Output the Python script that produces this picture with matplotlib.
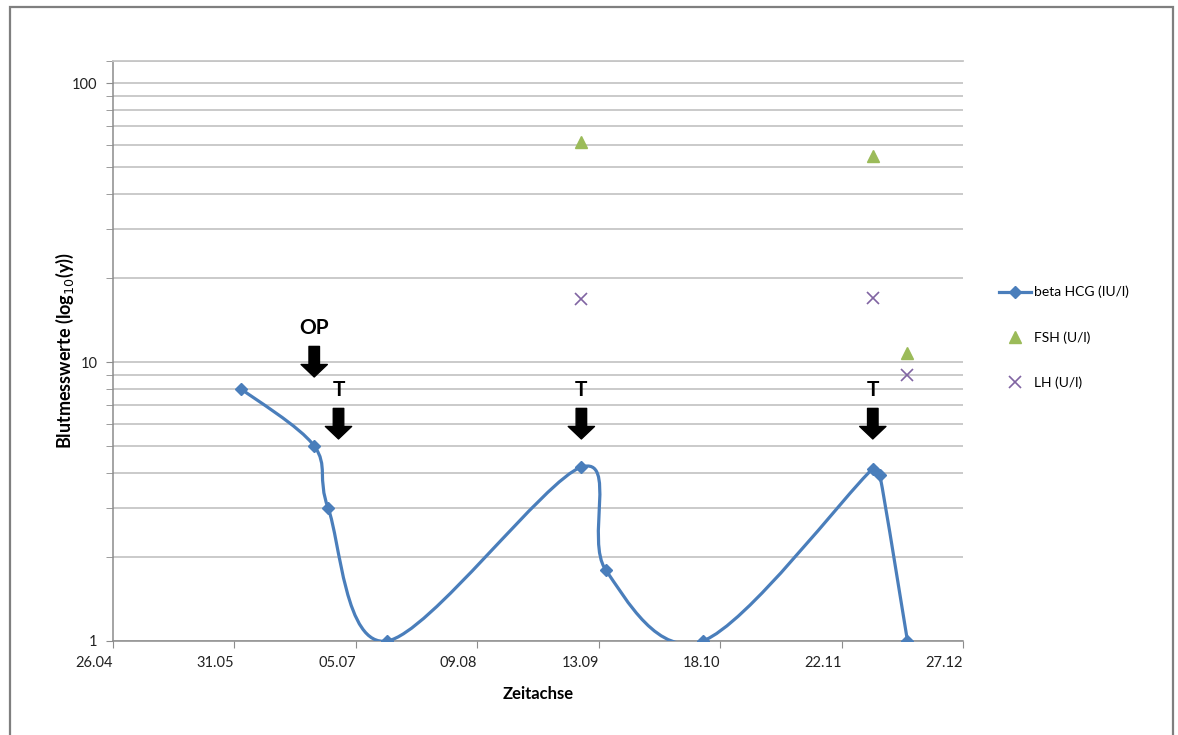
from datetime import date

import numpy as np
import matplotlib.pyplot as plt
from matplotlib.lines import Line2D
from matplotlib.path import Path
from matplotlib.patches import PathPatch, Rectangle

plt.rcParams['font.family'] = ['Lato', 'DejaVu Sans']

# ----------------------------------------------------------------------
# data (dates as dd.mm)
hcg_dates = ['02.06', '23.06', '27.06', '14.07', '08.09', '15.09',
             '13.10', '01.12', '03.12', '11.12']
hcg_values = [8.0, 5.0, 3.0, 1.0, 4.2, 1.8, 1.0, 4.15, 3.95, 1.0]

fsh_dates = ['08.09', '01.12', '11.12']
fsh_values = [61.5, 55.0, 10.8]

lh_dates = ['08.09', '01.12', '11.12']
lh_values = [16.8, 17.0, 9.0]

tick_labels = ['26.04', '31.05', '05.07', '09.08', '13.09', '18.10',
               '22.11', '27.12']

marker_labels = ['OP', 'T', 'T', 'T']
marker_dates = ['23.06', '30.06', '08.09', '01.12']

START = date(2010, 4, 26)


def day(s):
    d, m = s.split('.')
    return (date(2010, int(m), int(d)) - START).days


blue = '#4a7ebb'
green = '#9bbb59'
purple = '#8064a2'
grid_c = '#c6c6c6'
axis_c = '#8c8c8c'

fig = plt.figure(figsize=(11.78, 7.35), dpi=100)
ax = fig.add_axes([113 / 1178, 1 - 641 / 735, 850 / 1178, 580 / 735])

# ----------------------------------------------------------------------
# smoothed beta HCG line: bezier through the points, worked out in pixel
# space (days, log10) with control arms capped by the segment length
sx = 850 / day('27.12')
sy = 580 / np.log10(120)
hx = np.array([day(s) for s in hcg_dates], dtype=float)
P = np.column_stack([hx * sx, np.log10(hcg_values) * sy])
Pp = np.vstack([P[:1], P, P[-1:]])


def arm(v, seg):
    n = np.hypot(*v)
    lim = 0.5 * seg
    return v if n <= lim else v * lim / n


verts = [P[0]]
codes = [Path.MOVETO]
for i in range(len(P) - 1):
    a, b = Pp[i + 1], Pp[i + 2]
    seg = np.hypot(*(b - a))
    c1 = a + arm((Pp[i + 2] - Pp[i]) / 6, seg)
    c2 = b - arm((Pp[i + 3] - Pp[i + 1]) / 6, seg)
    verts += [c1, c2, b]
    codes += [Path.CURVE4] * 3
verts = np.array(verts)
verts[:, 0] /= sx
verts[:, 1] = 10 ** (verts[:, 1] / sy)
ax.add_patch(PathPatch(Path(verts, codes), fc='none', ec=blue, lw=2.3,
                       capstyle='round', joinstyle='round', zorder=3))
ax.plot(hx, hcg_values, ls='none', marker='D', ms=6.5, color=blue, zorder=4)

ax.plot([day(s) for s in fsh_dates], fsh_values, ls='none', marker='^',
        ms=8, color=green, zorder=4)
ax.plot([day(s) for s in lh_dates], lh_values, ls='none', marker='x',
        ms=8, mew=1.2, color=purple, zorder=4)

# ----------------------------------------------------------------------
# OP / T arrows
tip_val = {'OP': 8.84, 'T': 5.3}
for lab, d in zip(marker_labels, marker_dates):
    x = day(d)
    y = tip_val[lab]
    ax.annotate('', xy=(x, y), xytext=(0, 22), textcoords='offset points',
                arrowprops=dict(arrowstyle='simple,head_length=0.5,'
                                'head_width=1.05,tail_width=0.42',
                                fc='black', ec='black', shrinkA=0, shrinkB=0,
                                mutation_scale=18))
    ax.annotate(lab, xy=(x, y), xytext=(0, 35), textcoords='offset points',
                ha='center', va='center', fontsize=15, fontweight='bold',
                color='black')

# ----------------------------------------------------------------------
# axes
ax.set_yscale('log')
ax.set_ylim(1, 120)
ax.set_xlim(0, day('27.12'))
ax.set_yticks([1, 10, 100])
ax.set_yticklabels(['1', '10', '100'])
minor = [v * m for m in (1, 10) for v in range(2, 10)] + [120]
ax.set_yticks(minor, minor=True)
ax.yaxis.set_minor_formatter(plt.NullFormatter())
ax.set_xticks([day(s) for s in tick_labels])
ax.set_xticklabels(tick_labels, ha='right')

ax.grid(True, which='both', axis='y', color=grid_c, lw=1.3)
ax.set_axisbelow(True)
for side in ('left', 'bottom'):
    ax.spines[side].set_color(axis_c)
    ax.spines[side].set_linewidth(1.1)
ax.spines['right'].set_visible(False)
ax.spines['top'].set_color(grid_c)
ax.spines['top'].set_linewidth(1.3)
ax.tick_params(axis='both', which='both', direction='out', length=5,
               color=axis_c, labelsize=10.5, labelcolor='#222222')
ax.tick_params(axis='x', pad=6)
ax.tick_params(axis='y', pad=6)

ax.set_xlabel('Zeitachse', fontsize=12, fontweight='bold', labelpad=11)
ax.set_ylabel('Blutmesswerte (log$_{10}$(y))', fontsize=13, fontweight='bold',
              labelpad=-3)

# ----------------------------------------------------------------------
# legend
handles = [
    Line2D([], [], color=blue, lw=2.3, marker='D', ms=6.5),
    Line2D([], [], ls='none', color=green, marker='^', ms=8),
    Line2D([], [], ls='none', color=purple, marker='x', ms=8, mew=1.2),
]
fig.legend(handles, ['beta HCG (IU/l)', 'FSH (U/l)', 'LH (U/l)'],
           loc='upper left', bbox_to_anchor=(992 / 1178, 1 - 279 / 735),
           frameon=False, fontsize=10, handlelength=2.3, handletextpad=0.2,
           labelspacing=2.35, borderpad=0)

# outer frame
fig.add_artist(Rectangle((10 / 1178, -0.05), 1163 / 1178, 1.05 - 7 / 735,
                         transform=fig.transFigure, fill=False,
                         ec='#7f7f7f', lw=1.6))

fig.savefig('out.png', dpi=100)
